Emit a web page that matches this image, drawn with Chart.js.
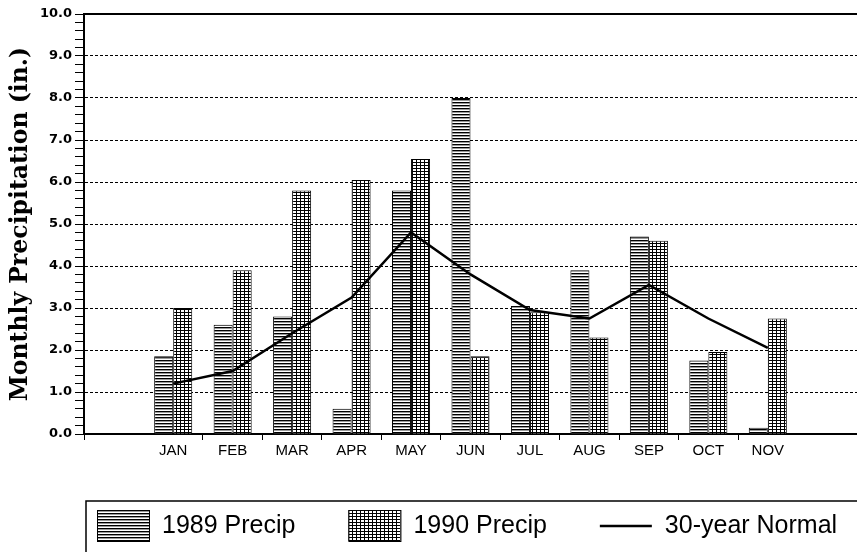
<!DOCTYPE html>
<html>
<head>
<meta charset="utf-8">
<script src="https://cdn.jsdelivr.net/npm/chart.js@4.4.0/dist/chart.umd.min.js"></script>
<style>
  html, body { margin: 0; padding: 0; background: #fff; }
  #wrap { width: 857px; height: 552px; }
</style>
</head>
<body>
<div id="wrap"><canvas id="precip" width="857" height="552"></canvas></div>
<script>
// values (inches); empty slots before JAN and after NOV
var months = ['', 'JAN', 'FEB', 'MAR', 'APR', 'MAY', 'JUN', 'JUL', 'AUG', 'SEP', 'OCT', 'NOV', ''];
var precip1989 = [null, 1.85, 2.6, 2.8, 0.6, 5.8, 8.0, 3.05, 3.9, 4.7, 1.75, 0.15, null];
var precip1990 = [null, 3.0, 3.9, 5.8, 6.05, 6.55, 1.85, 2.9, 2.3, 4.6, 1.95, 2.75, null];
var normal30 = [null, 1.2, 1.5, 2.4, 3.25, 4.8, 3.8, 2.95, 2.75, 3.55, 2.75, 2.05, null];
var seriesNames = ['1989 Precip', '1990 Precip', '30-year Normal'];

function makePattern(kind)
{
	var c = document.createElement('canvas');
	c.width = 4; c.height = 3;
	var g = c.getContext('2d');
	g.fillStyle = '#fff';
	g.fillRect(0, 0, 4, 3);
	g.fillStyle = '#000';
	g.fillRect(0, 0, 4, 1);
	if (kind === 'grid') {
		g.fillRect(0, 0, 1, 3);
	} else {
		g.fillStyle = '#999';
		g.fillRect(0, 1, 4, 1);
	}
	return g.createPattern(c, 'repeat');
}

function isWhole(v) { return Math.abs(v - Math.round(v)) < 1e-6; }

// hand drawn legend box under the chart, same as the old printout
var legendBox = {
	id: 'legendBox',
	afterDraw: function(chart) {
		var ctx = chart.ctx;
		var y = 526;
		var x = 97;
		ctx.save();
		ctx.strokeStyle = '#000';
		ctx.lineWidth = 1.5;
		ctx.strokeRect(86, 501, 820, 80);
		ctx.font = '25px "Liberation Sans", Arial, sans-serif';
		ctx.textBaseline = 'middle';
		ctx.fillStyle = '#000';
		chart.data.datasets.forEach(function(ds) {
			if (ds.type === 'line') {
				ctx.lineWidth = 2.5;
				ctx.beginPath();
				ctx.moveTo(x, y);
				ctx.lineTo(x + 52, y);
				ctx.stroke();
			} else {
				ctx.fillStyle = ds.backgroundColor;
				ctx.fillRect(x, 510, 52, 31);
				ctx.lineWidth = 1;
				ctx.strokeRect(x + 0.5, 510.5, 52, 31);
			}
			ctx.fillStyle = '#000';
			ctx.fillText(ds.label, x + 65, y);
			x += 65 + ctx.measureText(ds.label).width + 53;
		});
		ctx.restore();
	}
};

var chart = new Chart(document.getElementById('precip').getContext('2d'), {
	type: 'bar',
	data: {
		labels: months,
		datasets: [
			{
				label: seriesNames[0],
				data: precip1989,
				backgroundColor: makePattern('lines'),
				borderColor: '#000',
				borderWidth: 1,
				order: 2
			},
			{
				label: seriesNames[1],
				data: precip1990,
				backgroundColor: makePattern('grid'),
				borderColor: '#000',
				borderWidth: 1,
				order: 2
			},
			{
				type: 'line',
				label: seriesNames[2],
				data: normal30,
				borderColor: '#000',
				borderWidth: 2.5,
				pointRadius: 0,
				tension: 0,
				fill: false,
				order: 0
			}
		]
	},
	options: {
		responsive: false,
		animation: false,
		devicePixelRatio: 1,
		layout: { padding: { top: 14, right: 0, bottom: 88, left: 0 } },
		datasets: { bar: { barPercentage: 1, categoryPercentage: 0.64 } },
		plugins: { legend: { display: false }, tooltip: { enabled: false } },
		scales: {
			x: {
				position: 'bottom',
				afterFit: function(s) { s.height = 30; },
				grid: {
					offset: true,
					drawOnChartArea: false,
					tickLength: 6,
					tickWidth: 1,
					tickColor: function(c) {
						return (c.index === 1 || c.index >= 12) ? 'rgba(0,0,0,0)' : '#000';
					}
				},
				border: { color: '#000', width: 2 },
				ticks: {
					color: '#000',
					padding: 2,
					maxRotation: 0,
					autoSkip: false,
					font: { family: '"Liberation Sans", Arial, sans-serif', size: 15 }
				}
			},
			xTop: {
				type: 'category',
				position: 'top',
				labels: months,
				afterFit: function(s) { s.height = 0; },
				grid: { display: false, drawTicks: false },
				ticks: { display: false },
				border: { color: '#000', width: 2 }
			},
			y: {
				min: 0,
				max: 10,
				afterFit: function(s) { s.width = 84; },
				title: {
					display: true,
					text: 'Monthly Precipitation (in.)',
					color: '#000',
					padding: { top: 7, bottom: 0 },
					font: { family: '"DejaVu Serif", serif', size: 23.5, weight: 'bold' }
				},
				grid: {
					lineWidth: 1,
					color: function(c) {
						var v = c.tick ? c.tick.value : 0;
						return (isWhole(v) && v > 0.5 && v < 9.5) ? '#000' : 'rgba(0,0,0,0)';
					},
					tickColor: '#000',
					tickLength: 9,
					tickWidth: 1
				},
				border: { color: '#000', width: 2, dash: [3, 2] },
				ticks: {
					stepSize: 0.2,
					autoSkip: false,
					maxTicksLimit: 100,
					padding: 3,
					color: '#000',
					font: { family: '"DejaVu Sans", sans-serif', size: 13, weight: 'bold' },
					callback: function(v) { return isWhole(v) ? Math.round(v).toFixed(1) : ''; }
				}
			}
		}
	},
	plugins: [legendBox]
});
</script>
</body>
</html>
